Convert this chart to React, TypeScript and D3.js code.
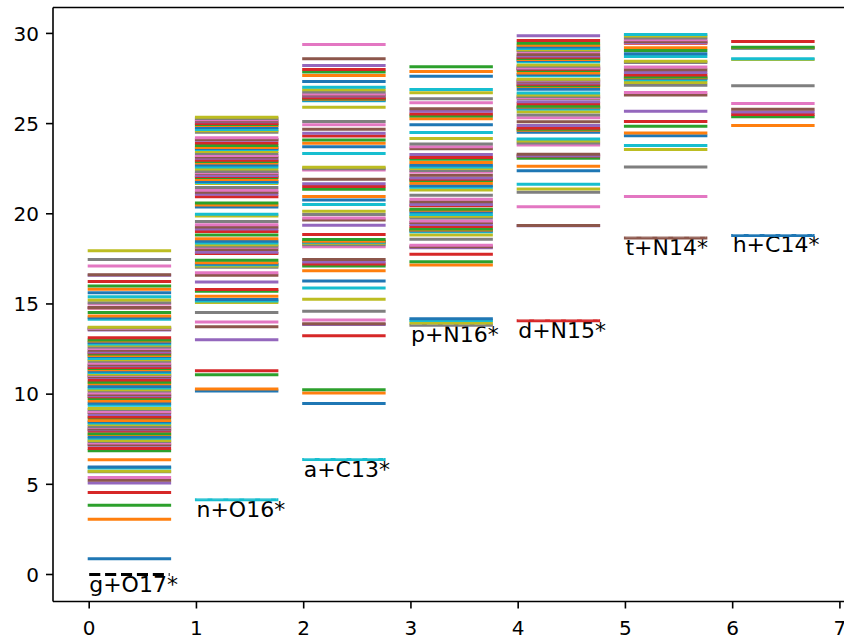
import React from "react";
import * as d3 from "d3";

// Reaction channels of the compound nucleus and their threshold energies (MeV)
const channels = ["g+O17*", "n+O16*", "a+C13*", "p+N16*", "d+N15*", "t+N14*", "h+C14*"];
const thresholds = [0, 4.14, 6.37, 13.82, 14.07, 18.66, 18.8];

// Level energies (MeV) drawn in each channel column
const levelsO17 = [
  0.87, 3.06, 3.84, 4.55, 5.08, 5.22, 5.38, 5.7, 5.73, 5.9, 5.96, 6.36,
  6.86, 6.98, 7.17, 7.2, 7.29, 7.38, 7.43, 7.56, 7.62, 7.76,
  7.8, 7.96, 8.02, 8.07, 8.17, 8.2, 8.32, 8.4, 8.47, 8.54,
  8.69, 8.73, 8.87, 8.98, 9.02, 9.15, 9.2, 9.39, 9.5, 9.62,
  9.76, 9.86, 9.91, 9.98, 10.06, 10.17, 10.24, 10.34, 10.42, 10.57,
  10.66, 10.79, 10.92, 10.97, 11.03, 11.08, 11.12, 11.2, 11.27, 11.35,
  11.42, 11.48, 11.57, 11.63, 11.71, 11.82, 11.9, 11.97, 12.08, 12.14,
  12.23, 12.3, 12.34, 12.44, 12.53, 12.62, 12.71, 12.78, 12.86, 12.95,
  13.0, 13.12,
  13.56, 13.6, 13.64, 13.68, 13.71, 14.15, 14.24, 14.33, 14.52, 14.77,
  14.79, 14.81, 15.0, 15.07, 15.22, 15.4, 15.62, 15.81, 15.99, 16.25,
  16.59, 16.62, 17.1, 17.47, 17.95,
];

const levelsO16 = [
  10.17, 10.28, 11.07, 11.29, 13.02, 13.74, 14.0, 14.52, 15.08, 15.16,
  15.25, 15.43, 15.71, 15.8, 16.22, 16.59, 16.73, 17.03, 17.1, 17.17,
  17.22, 17.28, 17.43, 17.8, 17.87, 18.02, 18.14, 18.2, 18.28, 18.38,
  18.47, 18.61, 18.83, 19.02, 19.16, 19.27, 19.39, 19.57, 19.87, 19.98,
  20.38, 20.49, 20.6, 20.94, 21.08, 21.2, 21.31, 21.46, 21.68, 21.74,
  21.79, 21.9, 22.01, 22.06, 22.12, 22.23, 22.28, 22.34, 22.48, 22.6,
  22.71, 22.82, 22.9, 22.97, 23.08, 23.15, 23.23, 23.34, 23.45, 23.56,
  23.62, 23.67, 23.78, 23.92, 24.07, 24.12, 24.22, 24.52, 24.6, 24.67,
  24.78, 24.89, 24.95, 25.0, 25.1, 25.15, 25.22, 25.28, 25.35,
];

const levelsC13 = [
  9.48, 10.06, 10.24, 13.24, 13.86, 13.9, 14.11, 14.59, 15.26, 15.88,
  16.27, 16.84, 17.1, 17.21, 17.32, 17.47, 18.17, 18.28, 18.36, 18.42,
  18.45, 18.48, 18.57, 18.85, 19.37, 19.66, 19.77, 19.96, 20.14, 20.52,
  20.77, 20.96, 21.36, 21.51, 21.66, 21.91, 22.43, 22.5, 22.58, 23.34,
  23.72, 23.91, 24.09, 24.31, 24.46, 24.68, 24.94, 25.12, 25.9, 26.27,
  26.31, 26.35, 26.38, 26.42, 26.53, 26.58, 26.64, 26.75, 26.88, 27.01,
  27.34, 27.67, 27.86, 28.0, 28.22, 28.59, 29.39,
];

const levelsN16 = [
  13.94, 14.08, 14.18, 17.16, 17.34, 17.75, 18.12, 18.17, 18.25, 18.59,
  18.82, 19.0, 19.06, 19.1, 19.15, 19.3, 19.4, 19.52, 19.6, 19.77,
  19.86, 19.96, 20.11, 20.2, 20.25, 20.44, 20.52, 20.66, 20.81, 21.03,
  21.32, 21.47, 21.55, 21.69, 21.84, 21.92, 21.99, 22.14, 22.32, 22.4,
  22.51, 22.6, 22.69, 22.84, 23.02, 23.12, 23.28, 23.61, 23.72, 23.87,
  24.17, 24.5, 24.94, 25.27, 25.42, 25.53, 25.68, 25.83, 26.16, 26.38,
  26.71, 26.89, 27.63, 27.89, 28.15,
];

const levelsN15 = [
  19.33, 19.35, 20.39, 21.2, 21.37, 21.64, 22.38, 22.64, 23.08, 23.2,
  23.22, 23.3, 23.81, 23.92, 24.03, 24.14, 24.52, 24.63, 24.68, 24.74,
  24.89, 25.1, 25.33, 25.47, 25.66, 25.81, 25.88, 25.92, 25.96, 26.1,
  26.21, 26.4, 26.45, 26.5, 26.58, 26.7, 26.9, 27.05, 27.1, 27.18,
  27.25, 27.32, 27.38, 27.42, 27.46, 27.65, 27.72, 27.8, 27.95, 28.02,
  28.06, 28.08, 28.1, 28.18, 28.25, 28.43, 28.5, 28.55, 28.61, 28.68,
  28.75, 28.83, 28.98, 29.05, 29.1, 29.16, 29.25, 29.35, 29.46, 29.61,
  29.87,
];

const levelsN14 = [
  20.96, 22.6, 23.56, 23.78, 24.33, 24.48, 24.85, 25.11, 25.68, 26.58,
  26.73, 27.13, 27.28, 27.43, 27.5, 27.54, 27.58, 27.7, 27.84, 27.99,
  28.14, 28.39, 28.45, 28.72, 28.87, 29.2, 29.05, 29.46, 29.5, 29.55,
  29.65, 29.75, 29.85, 29.94,
];

const levelsC14 = [
  24.89, 25.38, 25.5, 25.64, 25.79, 26.12, 27.1, 28.55, 28.59, 29.18,
  29.2, 29.24, 29.55,
];

const channelLevels = [levelsO17, levelsO16, levelsC13, levelsN16, levelsN15, levelsN14, levelsC14];

const xTicks = [0, 1, 2, 3, 4, 5, 6, 7];
const yTicks = [0, 5, 10, 15, 20, 25, 30];

const WIDTH = 844;
const HEIGHT = 640;
const LEVEL_WIDTH = 0.75;
const palette = d3.schemeCategory10;
const FONT = "'DejaVu Sans', sans-serif";

type Mark = { col: number; e: number; color: string; threshold: boolean; ground: boolean };

export default function App() {
  // Marks in drawing order; colours advance through the palette cycle
  const marks: Mark[] = [];
  let c = 0;
  channelLevels.forEach((levels, i) => {
    if (i === 0) {
      marks.push({ col: i, e: thresholds[i], color: "#000000", threshold: true, ground: true });
    } else {
      marks.push({ col: i, e: thresholds[i], color: palette[c++ % 10], threshold: true, ground: false });
    }
    levels.forEach((e) => marks.push({ col: i, e, color: palette[c++ % 10], threshold: false, ground: false }));
  });

  const allE = marks.map((m) => m.e);
  const eMin = d3.min(allE) as number;
  const eMax = d3.max(allE) as number;
  const yPad = 0.05 * (eMax - eMin);
  const xMaxData = channels.length - 1 + LEVEL_WIDTH;
  const xPad = 0.05 * xMaxData;

  const x = d3.scaleLinear().domain([-xPad, xMaxData + xPad]).range([53, 849.3]);
  const y = d3.scaleLinear().domain([eMin - yPad, eMax + yPad]).range([601.5, 7.5]);

  const [x0, x1] = x.range();
  const [yb, yt] = y.range();

  return (
    <svg
      width={WIDTH}
      height={HEIGHT}
      style={{ position: "absolute", left: 0, top: 0, background: "#fff" }}
      fontFamily={FONT}
    >
      <defs>
        <clipPath id="plot-area">
          <rect x={x0} y={yt} width={x1 - x0} height={yb - yt} />
        </clipPath>
      </defs>
      <rect x={0} y={0} width={WIDTH} height={HEIGHT} fill="#fff" />
      <g clipPath="url(#plot-area)">
        {channels.map((name, i) => (
          <text key={name} x={x(i)} y={y(thresholds[i]) + 17} fontSize={22} fill="#000">
            {name}
          </text>
        ))}
        {marks.map((m, k) => {
          const xa = x(m.col);
          const xb = x(m.col + LEVEL_WIDTH);
          const yy = y(m.e);
          if (m.ground) {
            return (
              <line key={k} x1={xa} x2={xb} y1={yy} y2={yy} stroke={m.color} strokeWidth={3}
                strokeDasharray="11.1 4.8" />
            );
          }
          if (m.threshold) {
            return (
              <g key={k}>
                <line x1={xa - 1.5} x2={xb + 1.5} y1={yy} y2={yy} stroke={m.color} strokeWidth={3} />
                <line x1={xa} x2={xb} y1={yy - 1} y2={yy - 1} stroke="#fff" strokeOpacity={0.35}
                  strokeWidth={1} strokeDasharray="11.1 4.8" />
              </g>
            );
          }
          return (
            <line key={k} x1={xa - 1.5} x2={xb + 1.5} y1={yy} y2={yy} stroke={m.color} strokeWidth={3} />
          );
        })}
      </g>

      {/* axes frame */}
      <line x1={x0} x2={x0} y1={yb} y2={yt} stroke="#000" strokeWidth={1.6} />
      <line x1={x0} x2={x1} y1={yt} y2={yt} stroke="#000" strokeWidth={1.6} />
      <line x1={x0} x2={x1} y1={yb} y2={yb} stroke="#000" strokeWidth={1.6} />
      <line x1={x1} x2={x1} y1={yb} y2={yt} stroke="#000" strokeWidth={1.6} />

      {yTicks.map((t) => (
        <g key={"y" + t}>
          <line x1={x0 - 7} x2={x0} y1={y(t)} y2={y(t)} stroke="#000" strokeWidth={1.6} />
          <text x={x0 - 14} y={y(t) + 7.2} fontSize={20} textAnchor="end" fill="#000">
            {t}
          </text>
        </g>
      ))}
      {xTicks.map((t) => (
        <g key={"x" + t}>
          <line x1={x(t)} x2={x(t)} y1={yb} y2={yb + 7} stroke="#000" strokeWidth={1.6} />
          <text x={x(t)} y={635} fontSize={20} textAnchor="middle" fill="#000">
            {t}
          </text>
        </g>
      ))}
    </svg>
  );
}
